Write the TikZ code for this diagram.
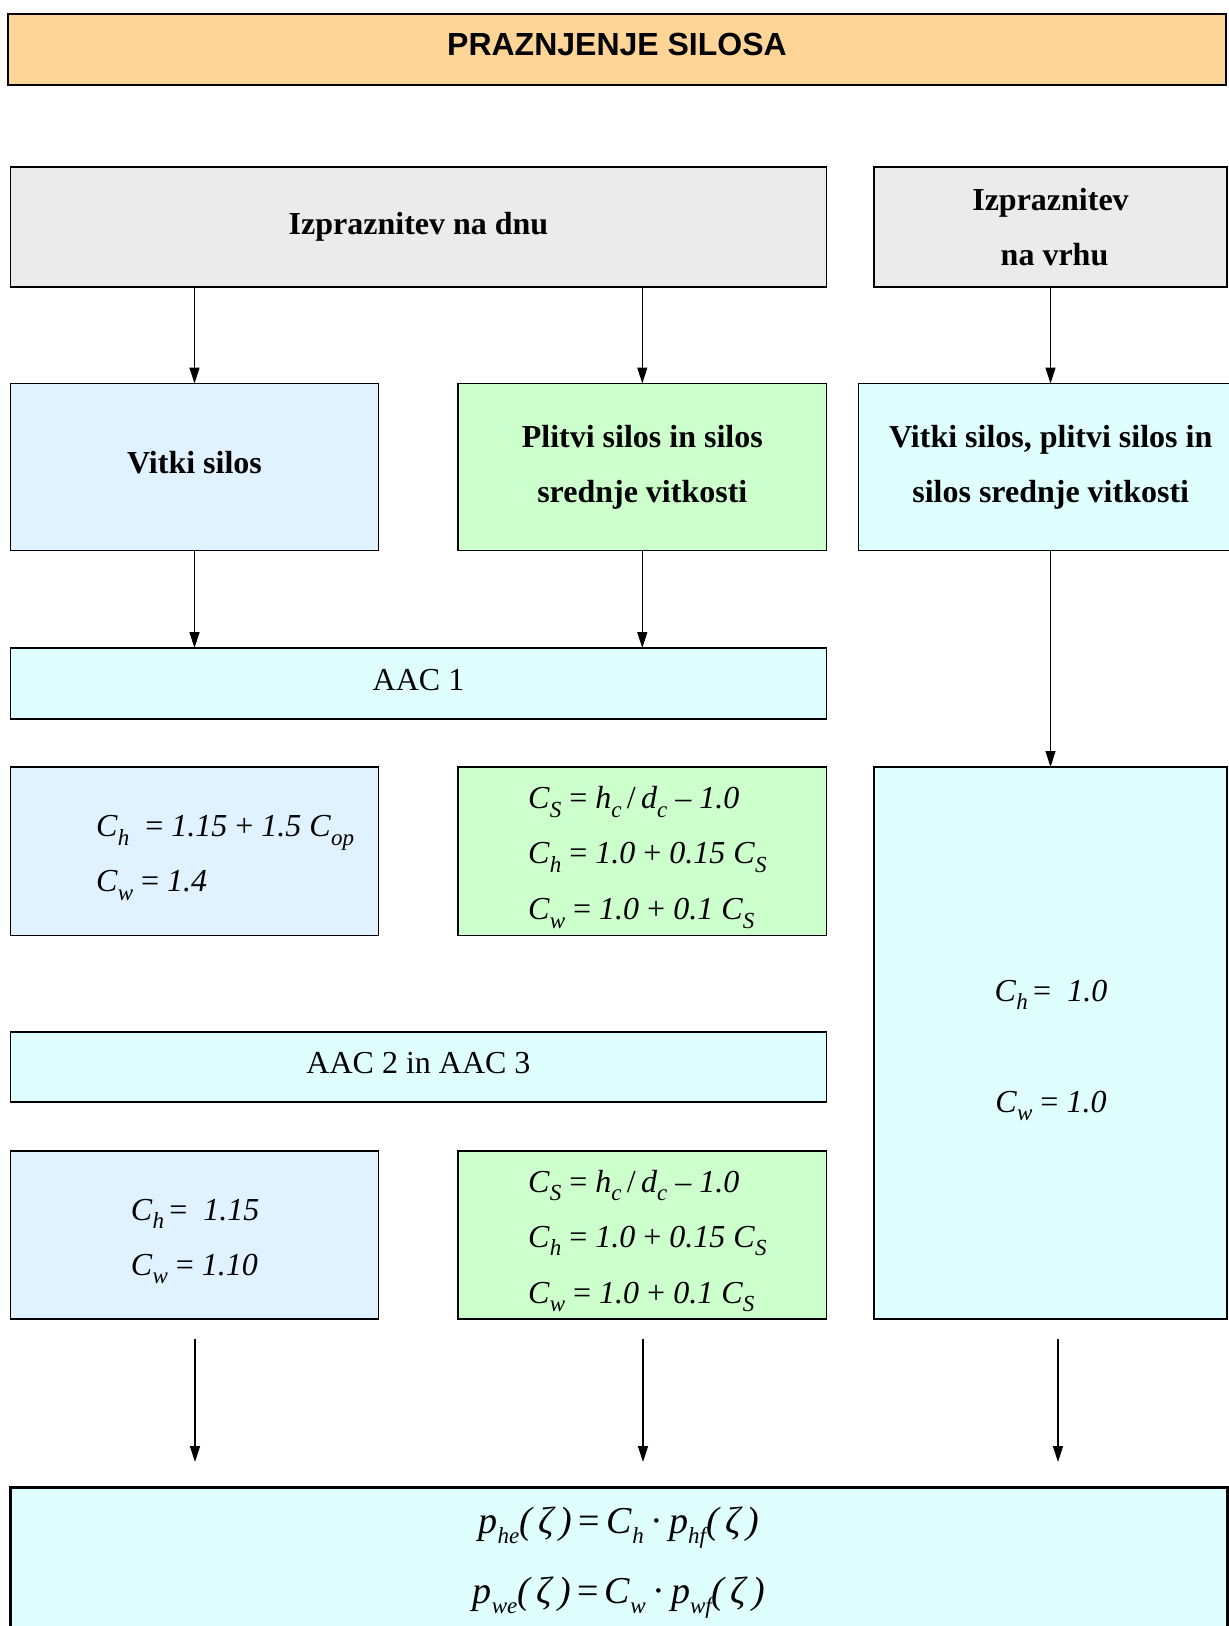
\documentclass[tikz,border=0pt]{standalone}
\usepackage{fontspec}
\setmainfont{Liberation Serif}
\newfontfamily\arialfont{Liberation Sans}
\usetikzlibrary{arrows.meta}
\definecolor{titlefill}{RGB}{255,213,151}
\definecolor{grayfill}{RGB}{235,235,235}
\definecolor{bluefill}{RGB}{224,241,255}
\definecolor{greenfill}{RGB}{204,255,204}
\definecolor{cyanfill}{RGB}{223,255,255}
% lowered subscript in the current (italic) text font
\newcommand\sbx[1]{\raisebox{-0.27em}{\fontsize{23}{23}\selectfont\itshape #1}}
\newcommand\Vr[2]{\textit{#1}\sbx{#2}}
\begin{document}
\begin{tikzpicture}[x=1pt,y=-1pt,
  box/.style={draw, line width=1.5pt, inner sep=0pt, outer sep=0pt},
  hdr/.style={font=\fontsize{32}{55}\selectfont\bfseries, align=center},
  plain/.style={font=\fontsize{32}{40}\selectfont},
  fml/.style={font=\fontsize{32}{40}\selectfont, inner sep=0pt, anchor=base west},
  fmlc/.style={font=\fontsize{32}{40}\selectfont, inner sep=0pt, anchor=base},
  big/.style={font=\fontsize{38}{40}\selectfont, inner sep=0pt, anchor=base},
  arr/.style={-{Triangle[length=16pt,width=10pt]}, line width=1.2pt},
]
\useasboundingbox[fill=white] (0,0) rectangle (1229,1626);

% title bar
\node[box, line width=2pt, fill=titlefill, minimum width=1218pt, minimum height=71pt,
  font=\arialfont\bfseries\fontsize{32}{36}\selectfont] (title) at (617,49) {\raisebox{9pt}{PRAZNJENJE SILOSA}};

% discharge location
\node[box, fill=grayfill, minimum width=816pt, minimum height=120pt, hdr] (gl) at (418.5,227) {\raisebox{2pt}{Izpraznitev na dnu}};
\node[box, fill=grayfill, minimum width=353pt, minimum height=120pt, hdr] (gr) at (1050.5,227) {Izpraznitev\\\hspace*{8pt}na vrhu};

% silo types
\node[box, fill=bluefill, minimum width=368pt, minimum height=167pt, hdr] (vs) at (194.5,467) {\raisebox{10pt}{Vitki silos}};
\node[box, fill=greenfill, minimum width=368.6pt, minimum height=167pt, hdr] (ps) at (642.3,467) {Plitvi silos in silos\\srednje vitkosti};
\node[box, fill=cyanfill, minimum width=384pt, minimum height=167pt, hdr] (rs) at (1050.7,467) {Vitki silos, plitvi silos in\\silos srednje vitkosti};

% action assessment classes
\node[box, fill=cyanfill, minimum width=816pt, minimum height=71pt, plain] (aac1) at (418.5,683.5) {\raisebox{8pt}{AAC 1}};
\node[box, fill=cyanfill, minimum width=816pt, minimum height=70pt, plain] (aac2) at (418.5,1067) {\raisebox{8pt}{AAC 2 in AAC 3}};

% coefficient boxes
\node[box, fill=bluefill, minimum width=368pt, minimum height=168.5pt] (f1l) at (194.5,851.25) {};
\node[box, fill=greenfill, minimum width=368.6pt, minimum height=168.5pt] (f1g) at (642.3,851.25) {};
\node[box, fill=cyanfill, minimum width=353pt, minimum height=552pt] (fr) at (1050.5,1043) {};
\node[box, fill=bluefill, minimum width=368pt, minimum height=168pt] (f2l) at (194.5,1235) {};
\node[box, fill=greenfill, minimum width=368.6pt, minimum height=168pt] (f2g) at (642.3,1235) {};

% coefficient formulas
\node[fml] (f1la) at (96,836.5) {\Vr{C}{h}\ \ = \textit{1.15} + \textit{1.5} \Vr{C}{op}};
\node[fml] (f1lb) at (96,891.5) {\Vr{C}{w} = \textit{1.4}};

\node[fml] (f1ga) at (528,808.5) {\Vr{C}{S} = \Vr{h}{c}\,/\,\Vr{d}{c} – \textit{1.0}};
\node[fml] (f1gb) at (528,863.5) {\Vr{C}{h} = \textit{1.0} + \textit{0.15} \Vr{C}{S}};
\node[fml] (f1gc) at (528,919.5) {\Vr{C}{w} = \textit{1.0} + \textit{0.1} \Vr{C}{S}};

\node[fml] (f2la) at (130.7,1220) {\Vr{C}{h}\,=\ \ \textit{1.15}};
\node[fml] (f2lb) at (130.7,1275) {\Vr{C}{w} = \textit{1.10}};

\node[fml] (f2ga) at (528,1192) {\Vr{C}{S} = \Vr{h}{c}\,/\,\Vr{d}{c} – \textit{1.0}};
\node[fml] (f2gb) at (528,1247) {\Vr{C}{h} = \textit{1.0} + \textit{0.15} \Vr{C}{S}};
\node[fml] (f2gc) at (528,1303) {\Vr{C}{w} = \textit{1.0} + \textit{0.1} \Vr{C}{S}};

\node[fmlc] (fra) at (1051,1001) {\Vr{C}{h}\,=\ \ \textit{1.0}};
\node[fmlc] (frb) at (1051,1112) {\Vr{C}{w} = \textit{1.0}};

% resulting pressures
\node[box, line width=3pt, fill=cyanfill, minimum width=1216.6pt, minimum height=170pt] (res) at (618.7,1572) {};
\node[big] (resa) at (619,1533) {\textit{p}\sbx{he}\textit{(\,ζ\,)}\,=\,\Vr{C}{h}\,·\,\textit{p}\sbx{hf}\textit{(\,ζ\,)}};
\node[big] (resb) at (619,1603) {\textit{p}\sbx{we}\textit{(\,ζ\,)}\,=\,\Vr{C}{w}\,·\,\textit{p}\sbx{wf}\textit{(\,ζ\,)}};

% connectors
\draw[arr] (gl.south -| vs.north) -- (vs.north);
\draw[arr] (gl.south -| ps.north) -- (ps.north);
\draw[arr] (gr.south) -- (gr.south |- rs.north);
\draw[arr] (vs.south) -- (vs.south |- aac1.north);
\draw[arr] (ps.south) -- (ps.south |- aac1.north);
\draw[arr] (gr.south |- rs.south) -- (gr.south |- fr.north);

\coordinate (d1s) at (195,1339);
\coordinate (d1e) at (195,1462);
\coordinate (d2s) at (643,1339);
\coordinate (d2e) at (643,1462);
\coordinate (d3s) at (1058,1339);
\coordinate (d3e) at (1058,1462);
\draw[arr] (d1s) -- (d1e);
\draw[arr] (d2s) -- (d2e);
\draw[arr] (d3s) -- (d3e);
\end{tikzpicture}
\end{document}
